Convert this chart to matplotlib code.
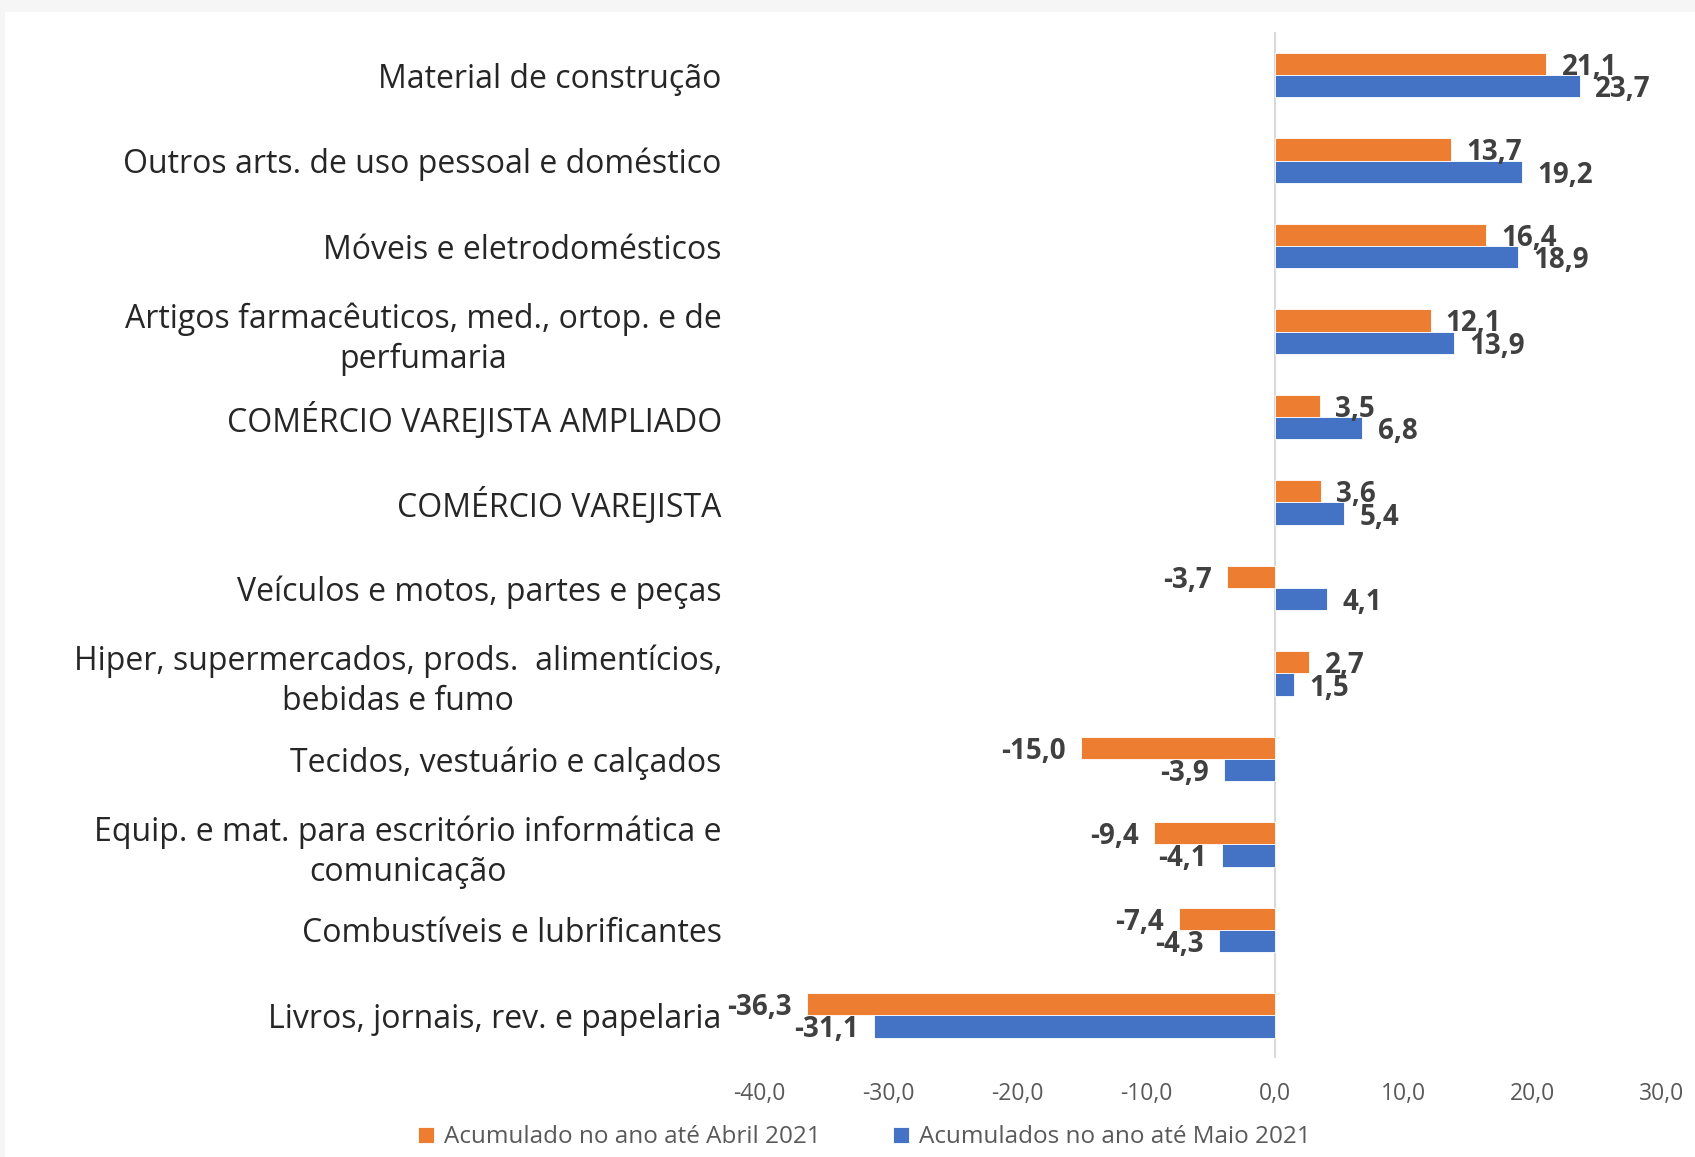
import numpy as np
import matplotlib.pyplot as plt
from matplotlib.patches import Rectangle

# %% Data (top to bottom as in the chart)
categories = [
    "Material de construção",
    "Outros arts. de uso pessoal e doméstico",
    "Móveis e eletrodomésticos",
    "Artigos farmacêuticos, med., ortop. e de\nperfumaria",
    "COMÉRCIO VAREJISTA AMPLIADO",
    "COMÉRCIO VAREJISTA",
    "Veículos e motos, partes e peças",
    "Hiper, supermercados, prods.  alimentícios,\nbebidas e fumo",
    "Tecidos, vestuário e calçados",
    "Equip. e mat. para escritório informática e\ncomunicação",
    "Combustíveis e lubrificantes",
    "Livros, jornais, rev. e papelaria",
]
abril = [21.1, 13.7, 16.4, 12.1, 3.5, 3.6, -3.7, 2.7, -15.0, -9.4, -7.4, -36.3]
maio = [23.7, 19.2, 18.9, 13.9, 6.8, 5.4, 4.1, 1.5, -3.9, -4.1, -4.3, -31.1]
label_abril = "Acumulado no ano até Abril 2021"
label_maio = "Acumulados no ano até Maio 2021"
xticks = [-40, -30, -20, -10, 0, 10, 20, 30]

c_orange = "#ED7D31"
c_blue = "#4472C4"
c_text = "#404040"

plt.rcParams['font.family'] = ['Open Sans', 'DejaVu Sans']

# %% Figure
fig = plt.figure(figsize=(16.95, 11.57), dpi=100, facecolor="#f6f6f6")
fig.patches.append(Rectangle((5/1695, 0), 1, 1 - 12/1157, transform=fig.transFigure,
                             facecolor="white", edgecolor="none", zorder=-5))
ax = fig.add_axes([0.448, 0.0855, 0.532, 0.8865])
ax.set_facecolor("none")

y = np.arange(len(categories))
h = 0.26
bars_a = ax.barh(y - h/2, abril, height=h, color=c_orange, edgecolor="white",
                 linewidth=0.6, label=label_abril, zorder=2)
bars_m = ax.barh(y + h/2, maio, height=h, color=c_blue, edgecolor="white",
                 linewidth=0.6, label=label_maio, zorder=2)

ax.axvline(0, color="#d9d9d9", linewidth=1.5, zorder=1)

for bars, vals in [(bars_a, abril), (bars_m, maio)]:
    for b, v in zip(bars, vals):
        yc = b.get_y() + b.get_height()/2
        off = 11 if v >= 0 else -11
        ax.annotate(f"{v:.1f}".replace(".", ","), (v, yc), xytext=(off, -2.5),
                    textcoords="offset points", ha="left" if v >= 0 else "right",
                    va="center", fontsize=20, fontweight="bold", color=c_text,
                    zorder=3)

ax.set_xlim(-40, 30)
ax.set_ylim(len(categories) - 0.5, -0.5)
ax.set_xticks(xticks)
ax.set_xticklabels([f"{t:.1f}".replace(".", ",") for t in xticks],
                   fontsize=16.5, color="#595959",
                   family=['Liberation Sans Narrow', 'Open Sans', 'DejaVu Sans'])
ax.set_yticks(y)
ax.set_yticklabels(categories, fontsize=23, color="#262626", linespacing=1.3)
for lbl in ax.get_yticklabels():
    lbl.set_multialignment("center")
ax.tick_params(axis="x", length=0, pad=17)
ax.tick_params(axis="y", length=0, pad=27)
for s in ax.spines.values():
    s.set_visible(False)

fig.legend(loc="center", bbox_to_anchor=(0.51, 0.017), ncol=2, frameon=False,
           fontsize=17.5, labelcolor="#595959", handlelength=0.65, handleheight=0.65,
           handletextpad=0.4, columnspacing=3.0)

fig.savefig("out.png", dpi=100, facecolor=fig.get_facecolor())
